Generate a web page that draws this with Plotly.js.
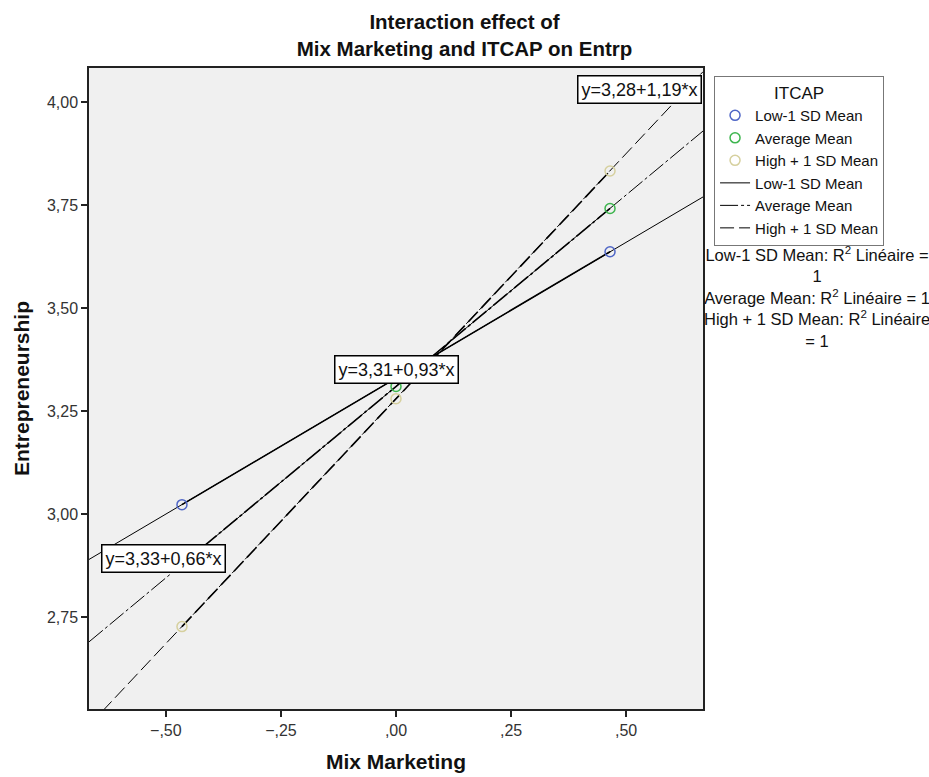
<!DOCTYPE html>
<html>
<head>
<meta charset="utf-8">
<script src="https://cdn.plot.ly/plotly-3.0.1.min.js"></script>
<style>html,body{margin:0;padding:0;background:#fff;}#chart{width:929px;height:777px;}</style>
</head>
<body>
<div id="chart"></div>
<script>
// Means of Entrepreneurship at three Mix Marketing levels, per ITCAP group
const xMeans = [-0.465, 0, 0.465];
const lowMean = [3.023, 3.33, 3.637];
const avgMean = [2.878, 3.31, 3.742];
const highMean = [2.727, 3.28, 3.833];
// Fitted lines, read at the left and right edges of the plot
const xFit = [-0.667, 0.667];
const lowFit = [2.89, 3.77];
const avgFit = [2.69, 3.93];
const highFit = [2.487, 4.074];
const groupNames = ["Low-1 SD Mean", "Average Mean", "High + 1 SD Mean"];
const equations = ["y=3,33+0,66*x", "y=3,31+0,93*x", "y=3,28+1,19*x"];
const xTickVals = [-0.5, -0.25, 0, 0.25, 0.5];
const xTickText = ["\u2212,50", "\u2212,25", ",00", ",25", ",50"];
const yTickVals = [2.75, 3.0, 3.25, 3.5, 3.75, 4.0];
const yTickText = ["2,75", "3,00", "3,25", "3,50", "3,75", "4,00"];

const FONT = "Liberation Sans, Arial, sans-serif";
const colors = ["#4f66c6", "#3db54e", "#d6d09e"];
const dashes = ["solid", "18px,3px,3px,3px", "14px,5px"];
const means = [lowMean, avgMean, highMean];
const fits = [lowFit, avgFit, highFit];

const traces = [];
for (let i = 0; i < 3; i++) {
  traces.push({
    x: xFit, y: fits[i], type: "scatter", mode: "lines",
    name: groupNames[i], legendrank: 4 + i,
    line: {color: "#000", width: 1, dash: dashes[i]},
    hoverinfo: "skip"
  });
}
for (let i = 0; i < 3; i++) {
  traces.push({
    x: [xMeans[0], xMeans[2]], y: [means[i][0], means[i][2]], type: "scatter", mode: "lines",
    showlegend: false,
    line: {color: "#000", width: 1.6, dash: dashes[i]},
    hoverinfo: "skip"
  });
}
for (let i = 0; i < 3; i++) {
  traces.push({
    x: xMeans, y: means[i], type: "scatter", mode: "markers",
    name: groupNames[i], legendrank: 1 + i,
    marker: {symbol: "circle-open", size: 10, color: colors[i], line: {width: 1.5, color: colors[i]}},
    hoverinfo: "x+y"
  });
}

const eqAnn = [
  {x: -0.505, y: 2.893, text: equations[0]},
  {x: 0, y: 3.35, text: equations[1]},
  {x: 0.528, y: 4.03, text: equations[2]}
].map(a => Object.assign({
  xref: "x", yref: "y", showarrow: false,
  font: {family: FONT, size: 18, color: "#111"},
  bgcolor: "#ffffff", bordercolor: "#000", borderwidth: 1.5, borderpad: 3
}, a));

const r2Ann = {
  xref: "paper", yref: "paper", x: 1.185, y: 0.729, xanchor: "center", yanchor: "top",
  showarrow: false, align: "center",
  text: "Low-1 SD Mean: R<sup>2</sup> Linéaire =<br>1<br>Average Mean: R<sup>2</sup> Linéaire = 1<br>High + 1 SD Mean: R<sup>2</sup> Linéaire<br>= 1",
  font: {family: FONT, size: 16.5, color: "#111"}
};

const layout = {
  width: 929, height: 777,
  margin: {l: 89, r: 226, t: 68, b: 68},
  paper_bgcolor: "#ffffff", plot_bgcolor: "#f0f0f0",
  font: {family: FONT, color: "#222"},
  title: {
    text: "<b>Interaction effect of<br>Mix Marketing and ITCAP on Entrp</b>",
    x: 0.5, xref: "container", y: 1 - 29 / 777, yref: "container", yanchor: "middle",
    font: {family: FONT, size: 20.5, color: "#111"}
  },
  xaxis: {
    range: [-0.667, 0.667], tickvals: xTickVals, ticktext: xTickText,
    ticks: "outside", ticklen: 6, tickwidth: 1.5, tickcolor: "#222",
    showgrid: false, zeroline: false,
    showline: true, linecolor: "#222", linewidth: 1.5, mirror: true,
    tickfont: {family: FONT, size: 16, color: "#333"},
    title: {text: "<b>Mix Marketing</b>", font: {family: FONT, size: 21, color: "#111"}, standoff: 16}
  },
  yaxis: {
    range: [2.527, 4.083], tickvals: yTickVals, ticktext: yTickText,
    ticks: "outside", ticklen: 6, tickwidth: 1.5, tickcolor: "#222",
    showgrid: false, zeroline: false,
    showline: true, linecolor: "#222", linewidth: 1.5, mirror: true,
    tickfont: {family: FONT, size: 16, color: "#333"},
    title: {text: "<b>Entrepreneurship</b>", font: {family: FONT, size: 21, color: "#111"}, standoff: 12}
  },
  legend: {
    x: 1.018, y: 0.9875, xanchor: "left", yanchor: "top",
    bgcolor: "#ffffff", bordercolor: "#777", borderwidth: 1,
    font: {family: FONT, size: 15, color: "#111"},
    title: {text: "ITCAP", side: "top center", font: {family: FONT, size: 17, color: "#111"}},
    tracegroupgap: 0, itemwidth: 30, traceorder: "normal"
  },
  annotations: eqAnn.concat([r2Ann]),
  showlegend: true
};

Plotly.newPlot("chart", traces, layout, {displayModeBar: false, responsive: false});
</script>
</body>
</html>
